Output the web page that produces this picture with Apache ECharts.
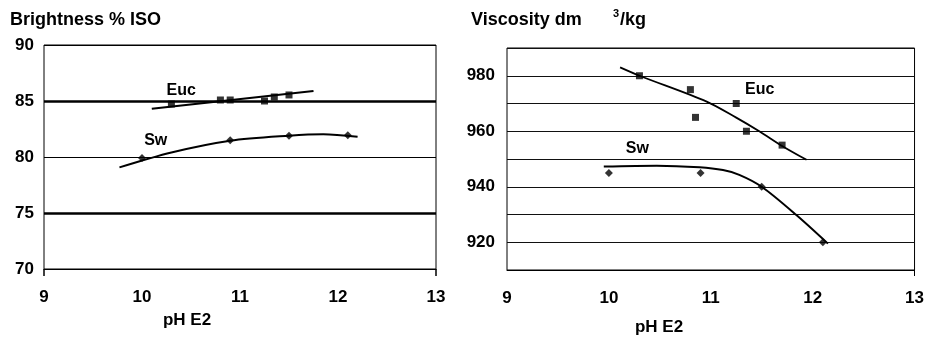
<!DOCTYPE html>
<html>
<head>
<meta charset="utf-8">
<script src="https://cdn.jsdelivr.net/npm/echarts@6/dist/echarts.min.js"></script>
<style>html,body{margin:0;padding:0;background:#fff}#main{width:927px;height:337px}</style>
</head>
<body>
<div id="main"></div>
<script>
var myChart = echarts.init(document.getElementById('main'));

// pH axis (both charts)
var phMin = 9, phMax = 13;
// brightness chart (% ISO)
var brightEucPts = [[10.3, 84.73], [10.8, 85.09], [10.9, 85.09], [11.25, 85.0], [11.35, 85.36], [11.5, 85.54]];
var brightEucFit = [[10.1, 84.3], [11.75, 85.9]];
var brightSwPts = [[10.0, 79.9], [10.9, 81.5], [11.5, 81.9], [12.1, 81.95]];
var brightSwFit = [[9.77, 79.07], [10.3, 80.4], [10.9, 81.45], [11.5, 81.9], [11.85, 82.03], [12.2, 81.8]];
var brightRefLines = [75, 85];
var brightLabelPos = {Euc: [10.4, 85.9], Sw: [10.14, 81.5]};
// viscosity chart (dm3/kg)
var viscEucPts = [[10.3, 980], [10.8, 975], [10.85, 965], [11.25, 970], [11.35, 960], [11.7, 955]];
var viscEucFit = [[10.11, 983], [10.3, 980], [10.96, 970.7], [11.25, 964.9], [11.48, 959.9], [11.7, 954.7], [11.94, 949.7]];
var viscSwPts = [[10.0, 945], [10.9, 945], [11.5, 940], [12.1, 920]];
var viscSwFit = [[9.95, 947.3], [10.47, 947.6], [10.89, 947], [11.12, 946], [11.28, 944.3], [11.5, 940], [11.84, 929.8], [12.15, 919.5]];
var viscLabelPos = {Euc: [11.48, 975], Sw: [10.28, 953.6]};

var defaultFont = 'Liberation Sans, Arial, sans-serif';
var boldText = {color: '#000', fontFamily: defaultFont, fontWeight: 'bold', fontSize: 17};

function fitLine(data, xi, yi, width) {
    return {
        type: 'line', xAxisIndex: xi, yAxisIndex: yi, data: data,
        smooth: 0.3, symbol: 'none', silent: true,
        lineStyle: {color: '#000', width: width}
    };
}
function pts(data, xi, yi, sym, size) {
    return {
        type: 'scatter', xAxisIndex: xi, yAxisIndex: yi, data: data,
        symbol: sym, symbolSize: size, itemStyle: {color: '#000'}
    };
}
function nameMark(name, pos) {
    return {
        symbol: 'circle', symbolSize: 1, itemStyle: {color: 'transparent'},
        label: {show: true, position: 'inside', formatter: name, color: '#000',
            fontFamily: defaultFont, fontWeight: 'bold', fontSize: 16},
        data: [{coord: pos}]
    };
}

var xAxisBase = {
    type: 'value', min: phMin, max: phMax, interval: 1,
    axisLine: {show: true, lineStyle: {color: '#000', width: 1}},
    splitLine: {show: false},
    axisLabel: Object.assign({margin: 20}, boldText)
};

var option = {
    animation: false,
    grid: [
        {left: 44, right: 491, top: 45, bottom: 68, show: true, borderColor: '#000', borderWidth: 1},
        {left: 507, right: 12, top: 48, bottom: 67, show: true, borderColor: '#000', borderWidth: 1}
    ],
    xAxis: [
        Object.assign({gridIndex: 0, axisTick: {show: true, customValues: [9, 13], length: 7, lineStyle: {color: '#000', width: 1.5}}}, xAxisBase),
        Object.assign({gridIndex: 1, axisTick: {show: true, customValues: [13], length: 6, lineStyle: {color: '#000'}}}, xAxisBase)
    ],
    yAxis: [{
        gridIndex: 0, type: 'value', min: 70, max: 90, interval: 5,
        axisLine: {show: false}, axisTick: {show: false},
        splitLine: {show: true, lineStyle: {color: '#000', width: 1}},
        axisLabel: Object.assign({margin: 10}, boldText)
    }, {
        gridIndex: 1, type: 'value', min: 910, max: 990, interval: 10,
        axisLine: {show: false}, axisTick: {show: false},
        splitLine: {show: true, lineStyle: {color: '#111', width: 1}},
        axisLabel: Object.assign({
            margin: 12,
            formatter: function (v) { return (v % 20 === 0) ? String(v) : ''; }
        }, boldText)
    }],
    graphic: [
        {type: 'text', left: 10, top: 11, style: {text: 'Brightness % ISO', fill: '#000', font: 'bold 18px ' + defaultFont}},
        {type: 'text', left: 471, top: 11, style: {text: 'Viscosity dm', fill: '#000', font: 'bold 18px ' + defaultFont}},
        {type: 'text', left: 613, top: 8, style: {text: '3', fill: '#000', font: 'bold 11px ' + defaultFont}},
        {type: 'text', left: 620, top: 11, style: {text: '/kg', fill: '#000', font: 'bold 18px ' + defaultFont}},
        {type: 'text', x: 187, y: 320, style: {text: 'pH E2', fill: '#000', font: 'bold 17px ' + defaultFont, textAlign: 'center', textVerticalAlign: 'middle'}},
        {type: 'text', x: 659, y: 327, style: {text: 'pH E2', fill: '#000', font: 'bold 17px ' + defaultFont, textAlign: 'center', textVerticalAlign: 'middle'}}
    ],
    series: [
        // thick reference lines on the brightness chart
        {
            type: 'line', xAxisIndex: 0, yAxisIndex: 0, data: [],
            markLine: {
                silent: true, symbol: 'none', label: {show: false},
                lineStyle: {color: '#000', width: 2.5, type: 'solid'},
                data: brightRefLines.map(function (v) { return {yAxis: v}; })
            }
        },
        Object.assign(fitLine(brightEucFit, 0, 0, 2), {markPoint: nameMark('Euc', brightLabelPos.Euc)}),
        Object.assign(fitLine(brightSwFit, 0, 0, 2), {markPoint: nameMark('Sw', brightLabelPos.Sw)}),
        pts(brightEucPts, 0, 0, 'rect', 7),
        pts(brightSwPts, 0, 0, 'diamond', 8),
        Object.assign(fitLine(viscEucFit, 1, 1, 1.8), {markPoint: nameMark('Euc', viscLabelPos.Euc)}),
        Object.assign(fitLine(viscSwFit, 1, 1, 2), {markPoint: nameMark('Sw', viscLabelPos.Sw)}),
        pts(viscEucPts, 1, 1, 'rect', 7),
        pts(viscSwPts, 1, 1, 'diamond', 8)
    ]
};
myChart.setOption(option);
</script>
</body>
</html>
